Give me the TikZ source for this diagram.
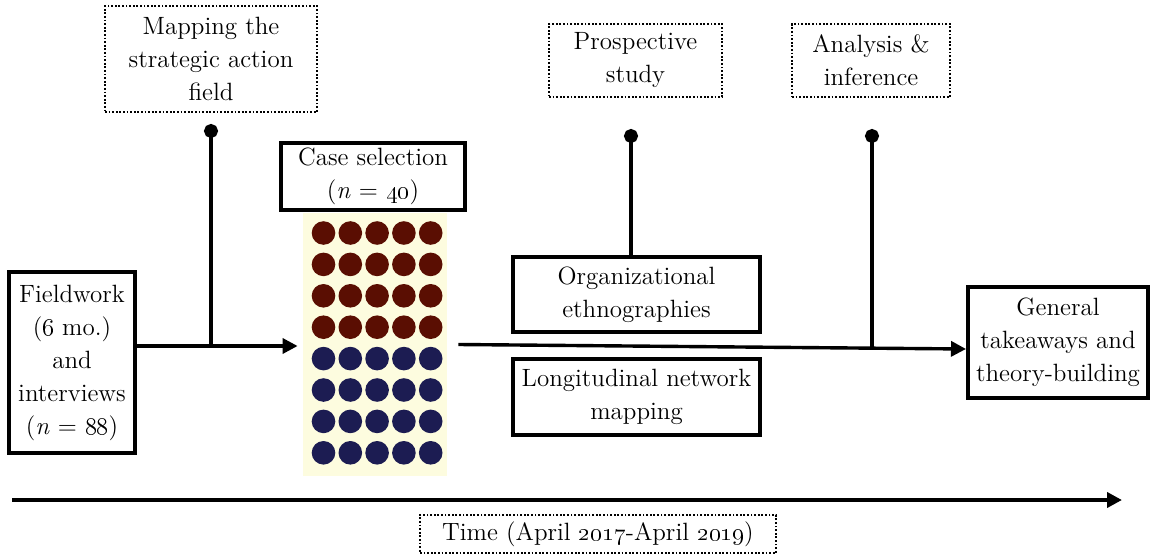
\documentclass[tikz,border=0pt]{standalone}
\usetikzlibrary{arrows.meta}
\definecolor{padyellow}{HTML}{FDFCDF}
\definecolor{casered}{HTML}{5A0E02}
\definecolor{caseblue}{HTML}{1C1C52}
\newcommand{\osn}[1]{\oldstylenums{#1}}
\begin{document}
\begin{tikzpicture}[x=0.5pt,y=-0.5pt]
\tikzstyle{every node}+=[inner sep=0pt,align=center,font=\fontsize{12.5}{16.5}\selectfont]
\tikzstyle{stage}=[draw,line width=2pt]
\tikzstyle{phase}=[draw,line width=0.9pt,dash pattern=on 0.9pt off 0.9pt]
\tikzstyle{flow}=[line width=1.7pt,-{Triangle[length=7.5pt,width=7.5pt]}]
\tikzstyle{pin}=[line width=1.7pt,{Circle[length=7pt]}-]
\useasboundingbox (0,0) rectangle (1156,556);
\node [stage,minimum width=63pt,minimum height=90.5pt] (field) at (72,362.5) {Fieldwork\\(\osn{6} mo.)\\and\\interviews\\(\textit{n} = \osn{88})};
\node [phase,minimum width=106pt,minimum height=53pt] (mapping) at (211,59) {Mapping the\\strategic action\\field};
\node [stage,minimum width=92pt,minimum height=33.5pt] (select) at (373,176.5) {Case selection\\(\textit{n} = \osn{40})};
\node [fill=padyellow,minimum width=72pt,minimum height=131.5pt] (cases) at (375,344.5) {};
\foreach \r in {0,...,7}
  \foreach \c in {0,...,4} {
    \ifnum\r<4 \def\dotcol{casered}\else\def\dotcol{caseblue}\fi
    \fill [\dotcol] (323.5+26.8*\c,233+31.4*\r) circle [radius=5.9pt];
  }
\node [phase,minimum width=86.5pt,minimum height=36.5pt] (prosp) at (635.5,60.5) {Prospective\\study};
\node [phase,minimum width=79pt,minimum height=36.5pt] (analysis) at (871,60.5) {Analysis \&\\inference};
\node [stage,minimum width=123.5pt,minimum height=37.5pt] (ethno) at (636.5,294.5) {Organizational\\ethnographies};
\node [stage,minimum width=123.5pt,minimum height=38pt] (longi) at (636.5,397) {Longitudinal network\\mapping};
\node [stage,minimum width=90pt,minimum height=55.5pt] (general) at (1058,342.5) {General\\takeaways and\\theory-building};
\node [phase,minimum width=178pt,minimum height=19pt] (time) at (598,534) {Time (April \osn{2017}-April \osn{2019})};
\coordinate (m1) at (211,124);
\coordinate (j1) at (211,346);
\coordinate (p1) at (631,129);
\coordinate (a1) at (872,129);
\coordinate (j2) at (872,347);
\coordinate (t0) at (12,500);
\coordinate (t1) at (1122,500);
\draw [flow] (field.east |- j1) -- ([xshift=-2.5pt]cases.west |- j1);
\draw [pin] (m1) -- (j1);
\draw [flow] ([xshift=5.5pt]cases.east) -- ([yshift=-3.25pt]general.west);
\draw [pin] (p1) -- (p1 |- ethno.north);
\draw [pin] (a1) -- (j2);
\draw [flow,line width=2pt] (t0) -- (t1);
\end{tikzpicture}
\end{document}
